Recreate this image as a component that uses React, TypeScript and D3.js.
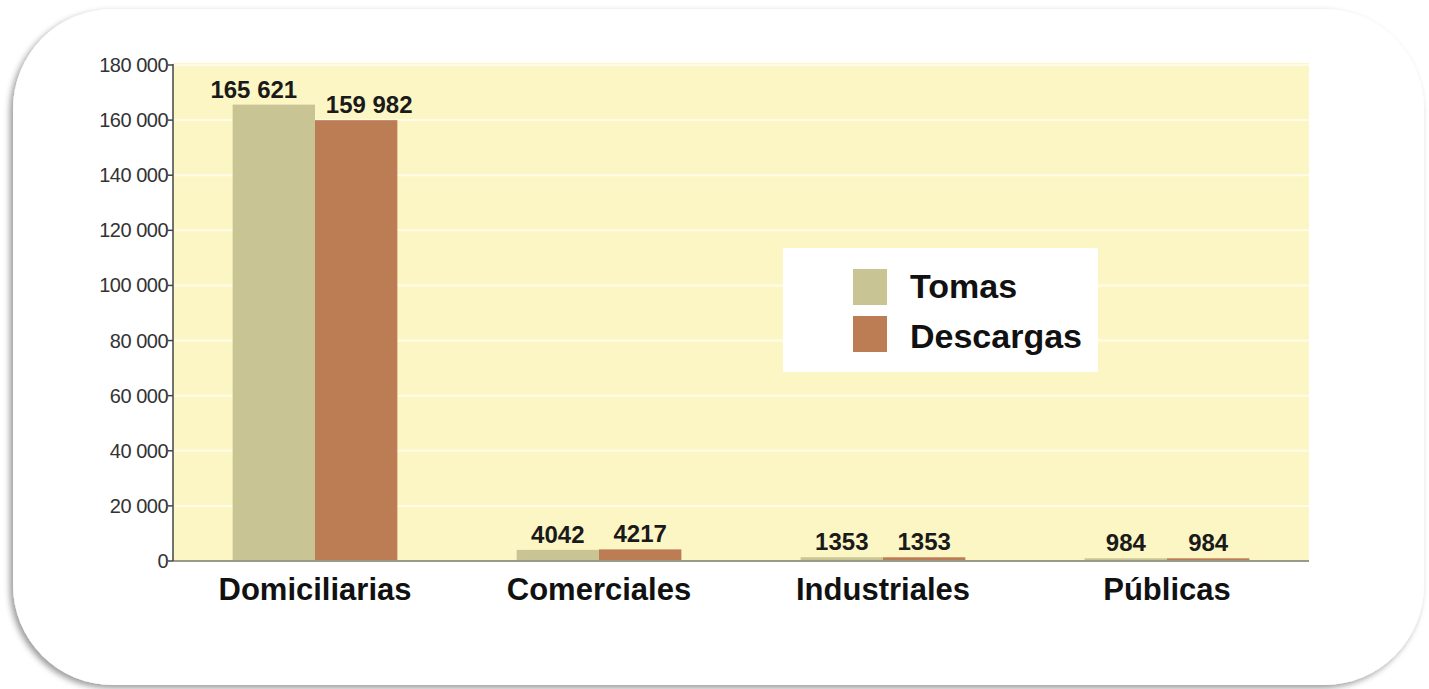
import React from "react";
import * as d3 from "d3";

const categories = ["Domiciliarias", "Comerciales", "Industriales", "Públicas"];
const seriesNames = ["Tomas", "Descargas"];
const tomas = [165621, 4042, 1353, 984];
const descargas = [159982, 4217, 1353, 984];
const yTicks = [0, 20000, 40000, 60000, 80000, 100000, 120000, 140000, 160000, 180000];

const colors = ["#c9c493", "#bc7d55"];

const W = 1429;
const H = 689;
const plot = { left: 173, right: 1309, top: 63, bottom: 561 };

const fmt = (v: number) => {
  if (v < 10000) return String(v);
  return d3.format(",")(v).replace(/,/g, " ");
};

export default function App() {
  const x0 = d3.scaleBand<string>().domain(categories).range([plot.left, plot.right]).paddingInner(0).paddingOuter(0);
  const barW = x0.step() * 0.29;
  const x1 = d3.scaleBand<string>().domain(seriesNames).range([0, barW * 2]);
  const y = d3.scaleLinear().domain([0, 180000]).range([plot.bottom, plot.top + 2]);
  const series = [tomas, descargas];
  const font = "'Liberation Sans', Arial, sans-serif";

  return (
    <svg width={W} height={H} style={{ position: "absolute", left: 0, top: 0 }} fontFamily={font}>
      <defs>
        <filter id="shadow" x="-5%" y="-5%" width="110%" height="115%">
          <feDropShadow dx={-3} dy={3} stdDeviation={3} floodColor="#000" floodOpacity={0.4} />
        </filter>
      </defs>
      <rect x={0} y={0} width={W} height={H} fill="#ffffff" />
      <rect x={13} y={9} width={1411} height={676} rx={100} ry={100} fill="#ffffff" filter="url(#shadow)" />
      {/* plot background */}
      <rect x={plot.left} y={plot.top} width={plot.right - plot.left} height={plot.bottom - plot.top} fill="#fcf6c5" />
      {/* gridlines */}
      {yTicks.filter((t) => t > 0).map((t) => (
        <line key={t} x1={plot.left} x2={plot.right} y1={y(t)} y2={y(t)} stroke="#fffbe8" strokeWidth={2} />
      ))}
      {/* bars */}
      {categories.map((c, i) => {
        const gx = (x0(c) as number) + x0.step() / 2 - barW;
        return (
          <g key={c}>
            {seriesNames.map((s, j) => {
              const v = series[j][i];
              const bx = gx + (x1(s) as number);
              const wide = v >= 10000;
              const dx = wide ? (j === 0 ? -20 : 13) : 0;
              return (
                <g key={s}>
                  <rect x={bx} y={y(v)} width={x1.bandwidth()} height={plot.bottom - y(v)} fill={colors[j]} />
                  <text
                    x={bx + x1.bandwidth() / 2 + dx}
                    y={y(v) - 7}
                    textAnchor="middle"
                    fontSize={24}
                    fontWeight="bold"
                    fill="#1a1a1a"
                  >
                    {fmt(v)}
                  </text>
                </g>
              );
            })}
            <text
              x={(x0(c) as number) + x0.step() / 2}
              y={600}
              textAnchor="middle"
              fontSize={31}
              fontWeight="bold"
              fill="#111"
            >
              {c}
            </text>
          </g>
        );
      })}
      {/* axes */}
      <line x1={plot.left} x2={plot.right} y1={plot.bottom} y2={plot.bottom} stroke="#9a9a8a" strokeWidth={2} />
      <line x1={plot.left} x2={plot.left} y1={y(180000) - 1} y2={plot.bottom} stroke="#444" strokeWidth={1.5} />
      {yTicks.map((t) => (
        <g key={t}>
          <line x1={plot.left - 5} x2={plot.left} y1={y(t)} y2={y(t)} stroke="#444" strokeWidth={1.5} />
          <text x={plot.left - 5} y={y(t) + 7} textAnchor="end" fontSize={20} fill="#333" letterSpacing={-0.5}>
            {fmt(t)}
          </text>
        </g>
      ))}
      {/* legend */}
      <rect x={783} y={248} width={315} height={124} fill="#ffffff" />
      {seriesNames.map((s, j) => (
        <g key={s}>
          <rect x={853} y={269 + j * 47} width={34} height={36} fill={colors[j]} />
          <text x={910} y={298 + j * 50} fontSize={34} fontWeight="bold" fill="#111">
            {s}
          </text>
        </g>
      ))}
    </svg>
  );
}
